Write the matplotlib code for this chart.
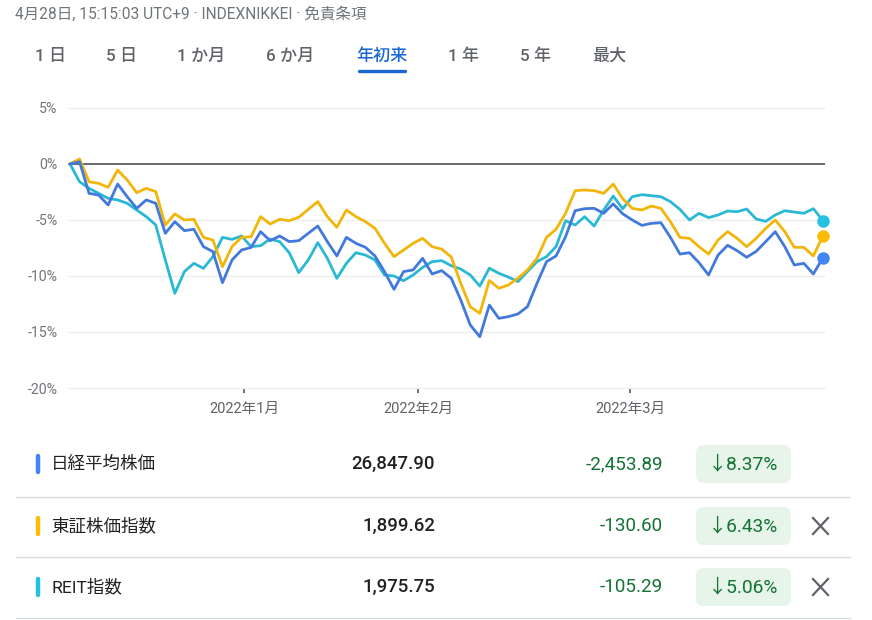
import matplotlib
matplotlib.use('Agg')
import matplotlib.pyplot as plt
from matplotlib.patches import FancyBboxPatch

# ---------------- data ----------------
nikkei = [0.0, 0.2, -2.62, -2.77, -3.66, -1.79, -2.92, -3.96, -3.21, -3.51,
          -6.19, -5.15, -5.95, -5.83, -7.38, -7.83, -10.6, -8.57, -7.68, -7.45,
          -6.04, -6.85, -6.43, -6.93, -6.85, -6.19, -5.54, -6.93, -8.21, -6.55,
          -7.08, -7.44, -8.21, -9.61, -11.19, -9.61, -9.46, -8.42, -9.82, -9.52,
          -10.2, -12.14, -14.38, -15.42, -12.6, -13.78, -13.63, -13.39, -12.74, -10.65,
          -8.72, -8.21, -6.49, -4.17, -3.99, -3.96, -4.40, -3.57, -4.45, -5.0,
          -5.48, -5.30, -5.24, -6.55, -8.04, -7.92, -8.81, -9.91, -8.13, -7.26,
          -7.74, -8.33, -7.80, -6.93, -6.04, -7.38, -9.02, -8.87, -9.82, -8.37]
topix = [0.0, 0.45, -1.58, -1.73, -2.08, -0.54, -1.43, -2.56, -2.17, -2.47,
         -5.45, -4.46, -5.0, -4.94, -6.55, -6.79, -9.17, -7.38, -6.55, -6.5,
         -4.70, -5.36, -4.94, -5.06, -4.76, -4.05, -3.36, -4.70, -5.65, -4.11,
         -4.70, -5.15, -5.74, -7.08, -8.27, -7.68, -7.08, -6.64, -7.38, -7.6,
         -8.3, -10.65, -12.74, -13.33, -10.4, -11.1, -10.8, -10.2, -9.46, -8.42,
         -6.55, -5.83, -4.40, -2.38, -2.32, -2.38, -2.62, -1.79, -3.1, -3.96,
         -4.11, -3.75, -3.96, -5.15, -6.55, -6.64, -7.38, -8.04, -6.79, -6.04,
         -6.64, -7.38, -6.64, -5.74, -5.0, -6.04, -7.44, -7.44, -8.21, -6.43]
reit = [0.0, -1.58, -2.17, -2.62, -3.07, -3.21, -3.51, -4.11, -4.70, -5.45,
        -8.57, -11.55, -9.61, -8.87, -9.32, -8.27, -6.55, -6.73, -6.43, -7.38,
        -7.29, -6.70, -6.93, -7.92, -9.70, -8.57, -7.02, -8.42, -10.21, -8.87,
        -7.92, -8.13, -8.57, -9.91, -10.0, -10.42, -9.91, -9.23, -8.72, -8.63,
        -9.08, -9.38, -9.91, -10.9, -9.3, -9.76, -10.1, -10.5, -9.6, -8.72,
        -8.27, -7.38, -5.06, -5.45, -4.70, -5.54, -4.11, -2.86, -4.0, -2.92,
        -2.74, -2.83, -2.92, -3.36, -4.05, -5.0, -4.40, -4.79, -4.55, -4.20,
        -4.26, -4.02, -4.91, -5.12, -4.55, -4.17, -4.29, -4.40, -3.99, -5.06]

month_tick_pos = [18.26, 36.52, 58.76]
month_labels = ['2022年1月', '2022年2月', '2022年3月']
y_ticks = [5, 0, -5, -10, -15, -20]
y_labels = ['5%', '0%', '-5%', '-10%', '-15%', '-20%']

header = '4月28日, 15:15:03 UTC+9 · INDEXNIKKEI · 免責条項'
tabs = ['1 日', '5 日', '1 か月', '6 か月', '年初来', '1 年', '5 年', '最大']
selected_tab = '年初来'

names = ['日経平均株価', '東証株価指数', 'REIT指数']
prices = ['26,847.90', '1,899.62', '1,975.75']
changes = ['-2,453.89', '-130.60', '-105.29']
pcts = ['8.37%', '6.43%', '5.06%']
removable = [False, True, True]

line_colors = ['#4279dc', '#f2b50a', '#2ab8d4']
dot_colors = ['#4285f4', '#fbbc04', '#24c1e0']

FAM = ['Roboto', 'Noto Sans CJK JP', 'DejaVu Sans']
plt.rcParams['font.family'] = FAM

W, H = 872, 620
fig = plt.figure(figsize=(W / 100, H / 100), dpi=100)

# background overlay axes in pixel coordinates
bg = fig.add_axes([0, 0, 1, 1])
bg.set_xlim(0, W)
bg.set_ylim(H, 0)
bg.axis('off')

# header
bg.text(15, 14, header, fontsize=11.2, color='#70757a', va='center', ha='left', family=FAM)

# tabs
tab_x = [51, 122, 201, 290, 382, 464, 536, 609]
for t, x in zip(tabs, tab_x):
    col = '#1967d2' if t == selected_tab else '#5f6368'
    bg.text(x, 56, t, fontsize=12.3, color=col, ha='center', va='center',
            fontweight='medium', family=FAM)
    if t == selected_tab:
        bg.plot([x - 23, x + 23], [70.5, 70.5], color='#1967d2', lw=2.4,
                solid_capstyle='round')

# ---------------- chart ----------------
px_left, px_right, px_top, px_bottom = 68, 825, 100, 388
ax = fig.add_axes([px_left / W, (H - px_bottom) / H,
                   (px_right - px_left) / W, (px_bottom - px_top) / H])
n = len(nikkei)
xs = list(range(n))
ax.set_xlim(-0.21, 79.22)
ax.set_ylim(-20, 5.714)

for y in y_ticks:
    if y == 0:
        ax.axhline(0, color='#4d5156', lw=1.2, zorder=1)
    elif y != -20:
        ax.axhline(y, color='#eeeeee', lw=1.0, zorder=0)

series = [nikkei, topix, reit]
for k in [2, 1, 0]:
    ax.plot(xs, series[k], color=line_colors[k], lw=2.0, zorder=3 + (2 - k) * 0.1,
            solid_joinstyle='round', solid_capstyle='round')
for k in range(3):
    ax.plot([xs[-1]], [series[k][-1]], 'o', color=dot_colors[k], ms=9,
            zorder=5, clip_on=False, markeredgewidth=0)

for side in ['top', 'right', 'left']:
    ax.spines[side].set_visible(False)
ax.spines['bottom'].set_color('#eeeeee')
ax.spines['bottom'].set_linewidth(1.0)

ax.set_yticks(y_ticks)
ax.set_yticklabels(y_labels)
ax.tick_params(axis='y', length=0, pad=7.5, labelsize=10.2, labelcolor='#70757a')
ax.set_xticks(month_tick_pos)
ax.set_xticklabels(month_labels)
ax.tick_params(axis='x', direction='out', length=3.8, width=1.3, color='#5f6368',
               pad=6, labelsize=10.5, labelcolor='#5f6368')
for lbl in ax.get_yticklabels() + ax.get_xticklabels():
    lbl.set_family(FAM)

# ---------------- table ----------------
row_y = [464, 526, 587]
sep_y = [496.5, 557, 617.5]
for y in sep_y:
    bg.plot([16, 850], [y, y], color='#dadce0', lw=1.0)

for i in range(3):
    cy = row_y[i]
    bg.plot([37.5, 37.5], [cy - 8, cy + 8], color=dot_colors[i], lw=3.2,
            solid_capstyle='round')
    bg.text(51, cy, names[i], fontsize=12.6, color='#202124', ha='left', va='center',
            family=FAM)
    bg.text(435, cy, prices[i], fontsize=13.4, color='#202124', ha='right',
            va='center', fontweight='medium', family=FAM)
    bg.text(663, cy, changes[i], fontsize=13.6, color='#137333', ha='right',
            va='center', family=FAM)
    box = FancyBboxPatch((696, cy - 19), 95, 38,
                         boxstyle='round,pad=0,rounding_size=8',
                         facecolor='#e6f4ea', edgecolor='none')
    bg.add_patch(box)
    bg.text(743, cy, '↓' + pcts[i], fontsize=13.8, color='#137333', ha='center',
            va='center', family=FAM)
    if removable[i]:
        bg.plot([813, 828], [cy - 8, cy + 8], color='#5f6368', lw=1.6)
        bg.plot([813, 828], [cy + 8, cy - 8], color='#5f6368', lw=1.6)

fig.savefig('out.png', dpi=100)
